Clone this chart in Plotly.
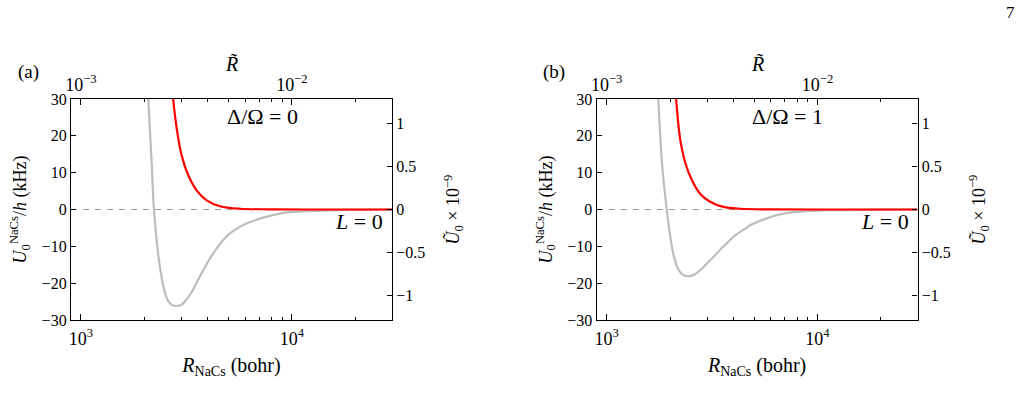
import plotly.graph_objects as go
import math

# ---------------- data ----------------
# Panel (a): Delta/Omega = 0
R_a_gray = [2032, 2084, 2162, 2218, 2325, 2388, 2455, 2530, 2594, 2692, 2843, 3002, 3170,
            3348, 3535, 3800, 4086, 4394, 4723, 5080, 5670, 6327, 7310, 8770, 10520, 15130,
            20000, 29800]
U_a_gray = [42, 30, 12.9, 0, -12.4, -17.0, -20.8, -23.5, -24.9, -25.9, -26.2, -25.8, -24.4,
            -22.4, -19.8, -16.5, -13.3, -10.6, -8.3, -6.5, -4.7, -3.4, -2.2, -1.1, -0.6,
            -0.25, -0.1, -0.04]
R_a_red = [2642, 2735, 2843, 3000, 3226, 3534, 3942, 4559, 5670, 7870, 12000, 29800]
U_a_red = [40, 30, 22, 14.7, 9.3, 5.2, 2.5, 0.9, 0.2, 0.05, 0.0, 0.0]

# Panel (b): Delta/Omega = 1
R_b_gray = [1717, 1758, 1828, 1927, 1999, 2074, 2188, 2310, 2443, 2578, 2773, 2984, 3207,
            3451, 3713, 3993, 4296, 4617, 4786, 5740, 6800, 8260, 11830, 20000, 29800]
U_b_gray = [42, 30, 12.9, 0, -7.0, -12.2, -16.3, -17.8, -18.1, -17.8, -16.5, -14.7, -12.9,
            -10.9, -9.2, -7.4, -6.1, -4.9, -4.3, -2.4, -1.2, -0.6, -0.2, -0.06, -0.02]
R_b_red = [2065, 2134, 2229, 2354, 2533, 2775, 3095, 3580, 4296, 6000, 10000, 29800]
U_b_red = [40, 30, 19.3, 12.9, 8.0, 4.3, 2.1, 0.7, 0.2, 0.04, 0.0, 0.0]

R_range = [897, 29800]
left_ticks = [-30, -20, -10, 0, 10, 20, 30]
left_ticktext = ["\u221230", "\u221220", "\u221210", "0", "10", "20", "30"]
right_ticks = [-1, -0.5, 0, 0.5, 1]
right_ticktext = ["\u22121", "\u22120.5", "0", "0.5", "1"]
bottom_major = [1000, 10000]
bottom_major_text = ["10<sup>3</sup>", "10<sup>4</sup>"]
bottom_minor = [2000, 3000, 4000, 5000, 6000, 7000, 8000, 9000, 20000]
top_major = [1e-3, 1e-2]
top_major_text = ["10<sup>\u22123</sup>", "10<sup>\u22122</sup>"]
top_minor = [2e-3, 3e-3, 4e-3, 5e-3, 6e-3, 7e-3, 8e-3, 9e-3, 2e-2]
R_scale = 1e-6  # R tilde = R * 1e-6
right_range = [-1.28, 1.28]
panel_labels = ["(a)", "(b)"]
detuning_labels = ["\u0394/\u03a9 = 0", "\u0394/\u03a9 = 1"]

# ---------------- figure ----------------
W, H = 1025, 407
FONT = "Liberation Serif"
GRAY = "#bdbdbd"
RED = "#ff0000"

fig = go.Figure()

panels = [
    dict(xd=[71 / W, 392 / W], R_g=R_a_gray, U_g=U_a_gray, R_r=R_a_red, U_r=U_a_red,
         ax=("x", "y", "x2", "y2")),
    dict(xd=[596.7 / W, 917.5 / W], R_g=R_b_gray, U_g=U_b_gray, R_r=R_b_red, U_r=U_b_red,
         ax=("x3", "y3", "x4", "y4")),
]
yd = [(H - 320) / H, (H - 99) / H]
lr = [math.log10(R_range[0]), math.log10(R_range[1])]
top_r = [math.log10(R_range[0] * R_scale), math.log10(R_range[1] * R_scale)]

layout = dict(
    width=W, height=H, margin=dict(l=0, r=0, t=0, b=0, pad=0, autoexpand=False),
    paper_bgcolor="white", plot_bgcolor="white", showlegend=False,
    font=dict(family=FONT, size=16, color="black"),
)

def lname(a):
    return a[0] + "axis" + a[1:]

for i, p in enumerate(panels):
    xb, yl, xt, yr = p["ax"]
    fig.add_trace(go.Scatter(x=R_range, y=[0, 0], mode="lines",
                             line=dict(color="#9a9a9a", width=1.2, dash="6px,6px"),
                             xaxis=xb, yaxis=yl, hoverinfo="skip"))
    fig.add_trace(go.Scatter(x=p["R_g"], y=p["U_g"], mode="lines",
                             line=dict(color=GRAY, width=2.2, shape="spline", smoothing=1.0),
                             xaxis=xb, yaxis=yl))
    fig.add_trace(go.Scatter(x=p["R_r"], y=p["U_r"], mode="lines",
                             line=dict(color=RED, width=2.2, shape="spline", smoothing=1.0),
                             xaxis=xb, yaxis=yl))
    # invisible trace on top/right axes
    fig.add_trace(go.Scatter(x=[R_range[0] * R_scale], y=[0], mode="markers",
                             marker=dict(opacity=0), xaxis=xt, yaxis=yr, hoverinfo="skip"))

    common = dict(showgrid=False, zeroline=False, showline=True, linecolor="black",
                  linewidth=1.3, ticks="inside", tickcolor="black", tickwidth=1,
                  tickfont=dict(family=FONT, size=16), automargin=False)
    xcommon = dict(common, tickfont=dict(family=FONT, size=18))
    layout[lname(xb)] = dict(xcommon, type="log", range=lr, domain=p["xd"], anchor=yl,
                             tickmode="array", tickvals=bottom_major, ticktext=bottom_major_text,
                             ticklen=6, ticklabelstandoff=2,
                             minor=dict(tickmode="array", tickvals=bottom_minor, ticks="inside",
                                        ticklen=3, tickcolor="black", showgrid=False),
                             title=dict(text="<i>R</i><sub>NaCs</sub> (bohr)",
                                        font=dict(family=FONT, size=20), standoff=10))
    layout[lname(xt)] = dict(xcommon, type="log", range=top_r, domain=p["xd"], anchor=yl,
                             overlaying=xb, side="top",
                             tickmode="array", tickvals=top_major, ticktext=top_major_text,
                             ticklen=6, ticklabelstandoff=0,
                             minor=dict(tickmode="array", tickvals=top_minor, ticks="inside",
                                        ticklen=3, tickcolor="black", showgrid=False))
    layout[lname(yl)] = dict(common, range=[-30, 30], domain=yd, anchor=xb,
                             tickmode="array", tickvals=left_ticks, ticktext=left_ticktext,
                             ticklen=5,
                             title=dict(text="<i>U</i><sub>0</sub><sup>NaCs</sup>/<i>h</i> (kHz)",
                                        font=dict(family=FONT, size=18), standoff=10))
    layout[lname(yr)] = dict(common, range=right_range, domain=yd, anchor=xb,
                             overlaying=yl, side="right",
                             tickmode="array", tickvals=right_ticks, ticktext=right_ticktext,
                             ticklen=5,
                             title=dict(text="<i>\u0168</i><sub>0</sub> \u00d7 10<sup>\u22129</sup>",
                                        font=dict(family=FONT, size=18), standoff=22))

annotations = []
for i, p in enumerate(panels):
    x0 = p["xd"][0] * W
    x1 = p["xd"][1] * W
    annotations.append(dict(text=panel_labels[i], x=(x0 - 43) / W, y=1 - 72 / H,
                            xref="paper", yref="paper", showarrow=False,
                            font=dict(family=FONT, size=19), xanchor="center", yanchor="middle"))
    annotations.append(dict(text="<i>R\u0303</i>", x=(x0 + x1) / 2 / W, y=1 - 64 / H,
                            xref="paper", yref="paper", showarrow=False,
                            font=dict(family=FONT, size=20), xanchor="center", yanchor="middle"))
    annotations.append(dict(text=detuning_labels[i], x=(x0 + 191) / W, y=1 - 116 / H,
                            xref="paper", yref="paper", showarrow=False,
                            font=dict(family=FONT, size=22), xanchor="center", yanchor="middle"))
    annotations.append(dict(text="<i>L</i> = 0", x=(x0 + 314) / W, y=1 - 222 / H,
                            xref="paper", yref="paper", showarrow=False,
                            font=dict(family=FONT, size=22), xanchor="right", yanchor="middle"))
annotations.append(dict(text="7", x=1010 / W, y=1 - 13 / H, xref="paper", yref="paper",
                        showarrow=False, font=dict(family=FONT, size=17),
                        xanchor="center", yanchor="middle"))
layout["annotations"] = annotations

fig.update_layout(**layout)
fig.write_html("out.html")
